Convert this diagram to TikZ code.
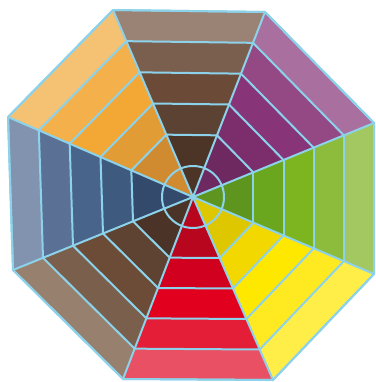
\documentclass[tikz,border=0pt]{standalone}
\usetikzlibrary{calc}
\definecolor{ln}{HTML}{8CD2EA}
\begin{document}
\begin{tikzpicture}[x=1pt,y=-1pt,
  edge/.style={draw=ln,line width=2pt,line join=round}]
\useasboundingbox (0,0) rectangle (375,382);
\coordinate (C) at (193,197);
\coordinate (P1) at (113,10);
\coordinate (P2) at (265,12);
\coordinate (P3) at (374,123);
\coordinate (P4) at (374,274);
\coordinate (P5) at (273,380);
\coordinate (P6) at (123,379);
\coordinate (P7) at (13,270);
\coordinate (P8) at (8,117);
\newcommand\sect[3]{%
  \foreach \c [count=\k] in {#3} {
    \pgfmathsetmacro\to{(7-\k)/6}
    \pgfmathsetmacro\ti{ifthenelse(\k==5,0,(6-\k)/6)}
    \fill[color=\c] ($(C)!\to!(#1)$) -- ($(C)!\to!(#2)$) -- ($(C)!\ti!(#2)$) -- ($(C)!\ti!(#1)$) -- cycle;
    \draw[edge] ($(C)!\to!(#1)$) -- ($(C)!\to!(#2)$);
  }
}
\sect{P1}{P2}{{rgb,255:red,154;green,131;blue,116},{rgb,255:red,123;green,95;blue,78},{rgb,255:red,107;green,74;blue,56},{rgb,255:red,92;green,66;blue,50},{rgb,255:red,76;green,52;blue,39}}
\sect{P2}{P3}{{rgb,255:red,169;green,111;blue,159},{rgb,255:red,148;green,73;blue,133},{rgb,255:red,135;green,53;blue,120},{rgb,255:red,124;green,46;blue,108},{rgb,255:red,110;green,41;blue,96}}
\sect{P3}{P4}{{rgb,255:red,163;green,200;blue,98},{rgb,255:red,141;green,187;blue,60},{rgb,255:red,125;green,181;blue,32},{rgb,255:red,106;green,166;blue,30},{rgb,255:red,94;green,149;blue,31}}
\sect{P4}{P5}{{rgb,255:red,255;green,238;blue,72},{rgb,255:red,255;green,233;blue,32},{rgb,255:red,255;green,232;blue,0},{rgb,255:red,243;green,216;blue,0},{rgb,255:red,223;green,199;blue,0}}
\sect{P5}{P6}{{rgb,255:red,233;green,80;blue,100},{rgb,255:red,227;green,30;blue,54},{rgb,255:red,226;green,0;blue,31},{rgb,255:red,208;green,0;blue,30},{rgb,255:red,184;green,6;blue,31}}
\sect{P6}{P7}{{rgb,255:red,152;green,128;blue,111},{rgb,255:red,122;green,95;blue,76},{rgb,255:red,108;green,75;blue,55},{rgb,255:red,94;green,67;blue,51},{rgb,255:red,76;green,51;blue,39}}
\sect{P7}{P8}{{rgb,255:red,129;green,147;blue,174},{rgb,255:red,90;green,112;blue,148},{rgb,255:red,73;green,100;blue,138},{rgb,255:red,63;green,90;blue,127},{rgb,255:red,52;green,74;blue,108}}
\sect{P8}{P1}{{rgb,255:red,245;green,193;blue,114},{rgb,255:red,244;green,176;blue,74},{rgb,255:red,243;green,168;blue,54},{rgb,255:red,226;green,156;blue,54},{rgb,255:red,208;green,138;blue,48}}
\foreach \v in {P1,P2,P3,P4,P5,P6,P7,P8} \draw[edge] (C) -- (\v);
\draw[edge] (P1) -- (P2) -- (P3) -- (P4) -- (P5) -- (P6) -- (P7) -- (P8) -- cycle;
\draw[edge] (C) circle[radius=31];
\end{tikzpicture}
\end{document}
